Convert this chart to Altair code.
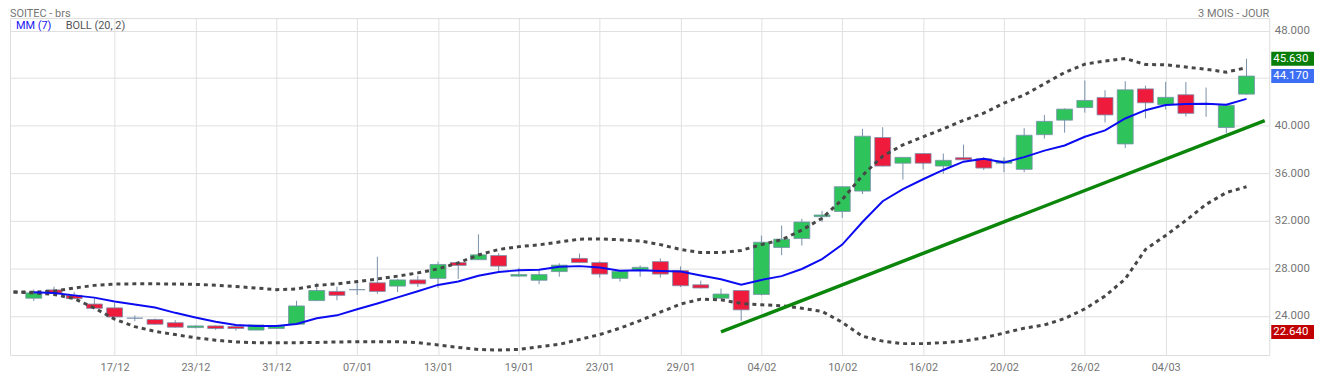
import altair as alt
import pandas as pd

# ---------------- data ----------------
dates = ["11/12", "12/12", "15/12", "16/12", "17/12", "18/12", "19/12", "22/12", "23/12", "24/12",
         "29/12", "30/12", "31/12",
         "02/01", "05/01", "06/01", "07/01", "08/01", "09/01", "12/01", "13/01", "14/01", "15/01",
         "16/01", "19/01", "20/01", "21/01", "22/01", "23/01", "26/01", "27/01", "28/01", "29/01", "30/01",
         "02/02", "03/02", "04/02", "05/02", "06/02", "09/02", "10/02", "11/02", "12/02", "13/02",
         "16/02", "17/02", "18/02", "19/02", "20/02", "23/02", "24/02", "25/02", "26/02", "27/02",
         "02/03", "03/03", "04/03", "05/03", "06/03", "09/03", "10/03"]

opens = [25.48, 26.18, 25.72, 24.99, 24.67, 23.80, 23.69, 23.42, 23.01, 23.15,
         23.10, 22.80, 22.93, 23.29, 25.28, 26.05, 26.20, 26.78, 26.50, 27.02,
         27.15, 28.48, 28.72, 29.07, 27.34, 26.99, 27.72, 28.83, 28.48, 27.15,
         27.85, 28.56, 27.80, 26.61, 25.48, 26.13, 25.80, 29.75, 30.51, 32.34,
         32.78, 34.49, 39.00, 36.84, 37.65, 36.60, 37.30, 37.21, 36.84, 36.32,
         39.24, 40.46, 41.52, 42.36, 38.46, 43.09, 41.76, 42.60, 41.86, 39.84, 42.65]
highs = [26.21, 26.45, 25.99, 25.48, 25.07, 24.04, 23.77, 23.63, 23.20, 23.20,
         23.15, 23.25, 23.20, 25.26, 26.78, 26.45, 26.80, 28.97, 27.10, 27.37,
         28.56, 28.56, 30.86, 29.26, 28.04, 27.83, 28.42, 29.24, 28.59, 27.80,
         28.24, 28.83, 28.16, 26.96, 26.29, 26.15, 30.75, 31.59, 32.16, 32.83,
         34.90, 39.73, 39.87, 37.33, 37.65, 37.65, 38.41, 37.35, 37.33, 39.79,
         40.90, 41.45, 43.79, 42.98, 43.74, 43.36, 43.68, 43.66, 43.20, 41.80, 45.63]
lows = [25.26, 25.80, 25.40, 24.60, 23.88, 23.55, 23.25, 23.00, 22.95, 22.82,
        22.75, 22.78, 22.90, 23.25, 25.25, 25.31, 25.75, 25.85, 26.00, 26.42,
        26.34, 27.10, 28.70, 27.75, 27.30, 26.66, 27.29, 28.45, 27.21, 26.88,
        27.29, 27.21, 26.42, 26.30, 25.40, 23.58, 25.72, 29.10, 29.91, 31.89,
        32.24, 34.24, 36.55, 35.46, 36.32, 35.95, 37.10, 36.26, 36.08, 36.08,
        38.91, 39.41, 41.09, 40.27, 38.11, 40.62, 41.35, 40.77, 40.74, 39.38, 42.60]
closes = [25.93, 25.91, 25.45, 24.63, 23.90, 23.80, 23.29, 23.04, 23.15, 22.93,
          22.93, 23.23, 23.15, 24.83, 26.13, 25.72, 26.20, 26.05, 27.02, 26.69,
          28.32, 28.24, 29.13, 28.18, 27.47, 27.47, 28.26, 28.48, 27.51, 27.75,
          28.08, 27.51, 26.53, 26.34, 25.83, 24.50, 30.19, 30.45, 31.89, 32.48,
          34.86, 39.11, 36.60, 37.33, 36.84, 37.08, 37.13, 36.43, 37.03, 39.19,
          40.36, 41.39, 42.12, 40.90, 43.01, 41.92, 42.38, 41.03, 41.86, 41.71, 44.17]

# MM (7), one value per session
ma7 = [25.98, 25.91, 25.72, 25.53, 25.20, 24.96, 24.70, 24.25, 23.86, 23.50,
       23.22, 23.14, 23.14, 23.31, 23.80, 24.04, 24.55, 25.04, 25.55, 26.07,
       26.60, 26.88, 27.37, 27.69, 27.84, 27.88, 28.12, 28.18, 28.07, 27.80,
       27.83, 27.77, 27.72, 27.39, 27.07, 26.61, 27.02, 27.34, 27.94, 28.77,
       29.99, 31.89, 33.64, 34.65, 35.49, 36.27, 36.97, 37.21, 36.89, 37.35,
       37.90, 38.33, 39.06, 39.60, 40.60, 41.30, 41.73, 41.81, 41.84, 41.76, 42.25]

# BOLL (20, 2), from the session before the first candle (index -1)
boll_up = [26.00,
           25.99, 26.07, 26.34, 26.56, 26.67, 26.69, 26.69, 26.68, 26.64, 26.58,
           26.46, 26.34, 26.20, 26.26, 26.56, 26.69, 26.88, 27.10, 27.34, 27.61,
           27.95, 28.45, 29.12, 29.58, 29.82, 29.97, 30.21, 30.45, 30.47, 30.40,
           30.30, 29.99, 29.58, 29.32, 29.32, 29.50, 29.99, 30.40, 31.21, 32.21,
           33.78, 35.81, 37.43, 38.38, 39.06, 39.73, 40.45, 41.05, 41.90, 42.57,
           43.52, 44.47, 45.17, 45.44, 45.65, 45.14, 45.12, 44.93, 44.74, 44.50, 44.88]
boll_low = [26.00,
            25.93, 25.80, 25.45, 24.65, 23.72, 23.09, 22.69, 22.42, 22.15, 21.95,
            21.80, 21.74, 21.74, 21.74, 21.76, 21.80, 21.82, 21.82, 21.82, 21.74,
            21.55, 21.34, 21.17, 21.12, 21.17, 21.39, 21.60, 22.01, 22.42, 22.96,
            23.60, 24.31, 24.99, 25.40, 25.34, 25.04, 24.93, 24.85, 24.63, 24.37,
            23.45, 22.28, 21.87, 21.66, 21.66, 21.74, 21.87, 22.15, 22.55, 22.96,
            23.23, 23.77, 24.58, 25.66, 27.10, 29.58, 30.75, 32.02, 33.38, 34.37, 34.86]

# support line (session index, price)
trend_idx = [34, 60.9]
trend_val = [22.64, 40.43]

# x axis labelled sessions, y axis ticks
tick_idx = [4, 8, 12, 16, 20, 24, 28, 32, 36, 40, 44, 48, 52, 56]
y_ticks = [24, 28, 32, 36, 40, 44, 48]

# price tags on the right
tag_values = [45.63, 44.17, 22.64]
tag_colors = ["#087d08", "#3c6ff3", "#c10000"]

# ---------------- styling ----------------
W, H = 1267, 339
XDOM = [-0.93, 60.88]
YDOM = [21.12, 48.63]
FONT = "Roboto"
GREY = "#757575"
GRID = "#e0e0e0"
GREEN = "#2ec35b"
RED = "#ee1b3d"
WICK = "#7890aa"

n = len(dates)
idx = list(range(n))
candles = pd.DataFrame({"i": idx, "date": dates, "open": opens, "high": highs,
                        "low": lows, "close": closes})
ma_df = pd.DataFrame({"i": idx, "v": ma7})
band_idx = list(range(-1, n))
up_df = pd.DataFrame({"i": band_idx, "v": boll_up})
low_df = pd.DataFrame({"i": band_idx, "v": boll_low})
trend_df = pd.DataFrame({"i": trend_idx, "v": trend_val})
tags_df = pd.DataFrame({"v": tag_values, "c": tag_colors})

xscale = alt.Scale(domain=XDOM, nice=False, zero=False)
yscale = alt.Scale(domain=YDOM, nice=False, zero=False)

date_array = "[" + ",".join("'" + d + "'" for d in dates) + "]"

x_axis = alt.Axis(values=tick_idx, labelExpr=date_array + "[datum.value]", grid=True,
                  gridColor=GRID, ticks=False, domain=False, labelColor=GREY,
                  labelFont=FONT, labelFontSize=11, labelPadding=7, title=None)
y_axis = alt.Axis(orient="right", values=y_ticks,
                  labelExpr="datum.value == 44 ? '' : format(datum.value, '.3f')",
                  grid=True, gridColor=GRID, ticks=False, domain=False,
                  labelColor=GREY, labelFont=FONT, labelFontSize=11.5,
                  labelPadding=5, title=None)


def X():
    return alt.X("i:Q", scale=xscale, axis=x_axis)


def Y(field):
    return alt.Y(field + ":Q", scale=yscale, axis=y_axis)


wicks = alt.Chart(candles).mark_rule(color=WICK, strokeWidth=1).encode(
    x=X(), y=Y("low"), y2="high:Q",
)

bodies = alt.Chart(candles).mark_bar(size=16, stroke=WICK, strokeWidth=0.8).encode(
    x=X(), y=Y("open"), y2="close:Q",
    color=alt.when("datum.close >= datum.open").then(alt.value(GREEN)).otherwise(alt.value(RED)),
)

ma_line = alt.Chart(ma_df).mark_line(color="#0c0cf2", strokeWidth=2, clip=True).encode(
    x=X(), y=Y("v"))

up_line = alt.Chart(up_df).mark_line(color="#474747", strokeWidth=3, strokeDash=[4, 4],
                                     clip=True).encode(x=X(), y=Y("v"))
low_line = alt.Chart(low_df).mark_line(color="#474747", strokeWidth=3, strokeDash=[4, 4],
                                       clip=True).encode(x=X(), y=Y("v"))

trend = alt.Chart(trend_df).mark_line(color="#0b860b", strokeWidth=3.5, clip=True).encode(
    x=X(), y=Y("v"))

tag_boxes = alt.Chart(tags_df).mark_bar(orient="horizontal", size=14).encode(
    y=Y("v"),
    x=alt.value(W + 2),
    x2=alt.value(W + 50),
    color=alt.Color("c:N", scale=None, legend=None),
)
tag_text = alt.Chart(tags_df).mark_text(align="left", baseline="middle", color="white",
                                        font=FONT, fontSize=11.5).encode(
    y=Y("v"),
    x=alt.value(W + 4),
    text=alt.Text("v:Q", format=".3f"),
)

one = pd.DataFrame({"k": [0]})
title_left = alt.Chart(one).mark_text(align="left", baseline="middle", font=FONT,
                                      fontSize=11, color=GREY, text="SOITEC - brs").encode(
    x=alt.value(0), y=alt.value(-4))
title_right = alt.Chart(one).mark_text(align="right", baseline="middle", font=FONT,
                                       fontSize=11, color=GREY, text="3 MOIS - JOUR").encode(
    x=alt.value(W), y=alt.value(-4))
leg_mm = alt.Chart(one).mark_text(align="left", baseline="middle", font=FONT,
                                  fontSize=11, color="#1515f0", text="MM (7)").encode(
    x=alt.value(6), y=alt.value(8))
leg_boll = alt.Chart(one).mark_text(align="left", baseline="middle", font=FONT,
                                    fontSize=11, color="#555555", text="BOLL (20, 2)").encode(
    x=alt.value(56), y=alt.value(8))

chart = alt.layer(
    wicks, bodies, up_line, low_line, ma_line, trend, tag_boxes, tag_text,
    title_left, title_right, leg_mm, leg_boll,
).properties(
    width=W, height=H,
    autosize=alt.AutoSizeParams(type="none"),
    padding={"left": 2, "top": 9, "right": 45, "bottom": 24},
).configure_view(
    stroke="#d9d9d9", strokeWidth=1
).configure(background="white")

chart.save("out.html", embed_options={"renderer": "svg", "actions": False})
